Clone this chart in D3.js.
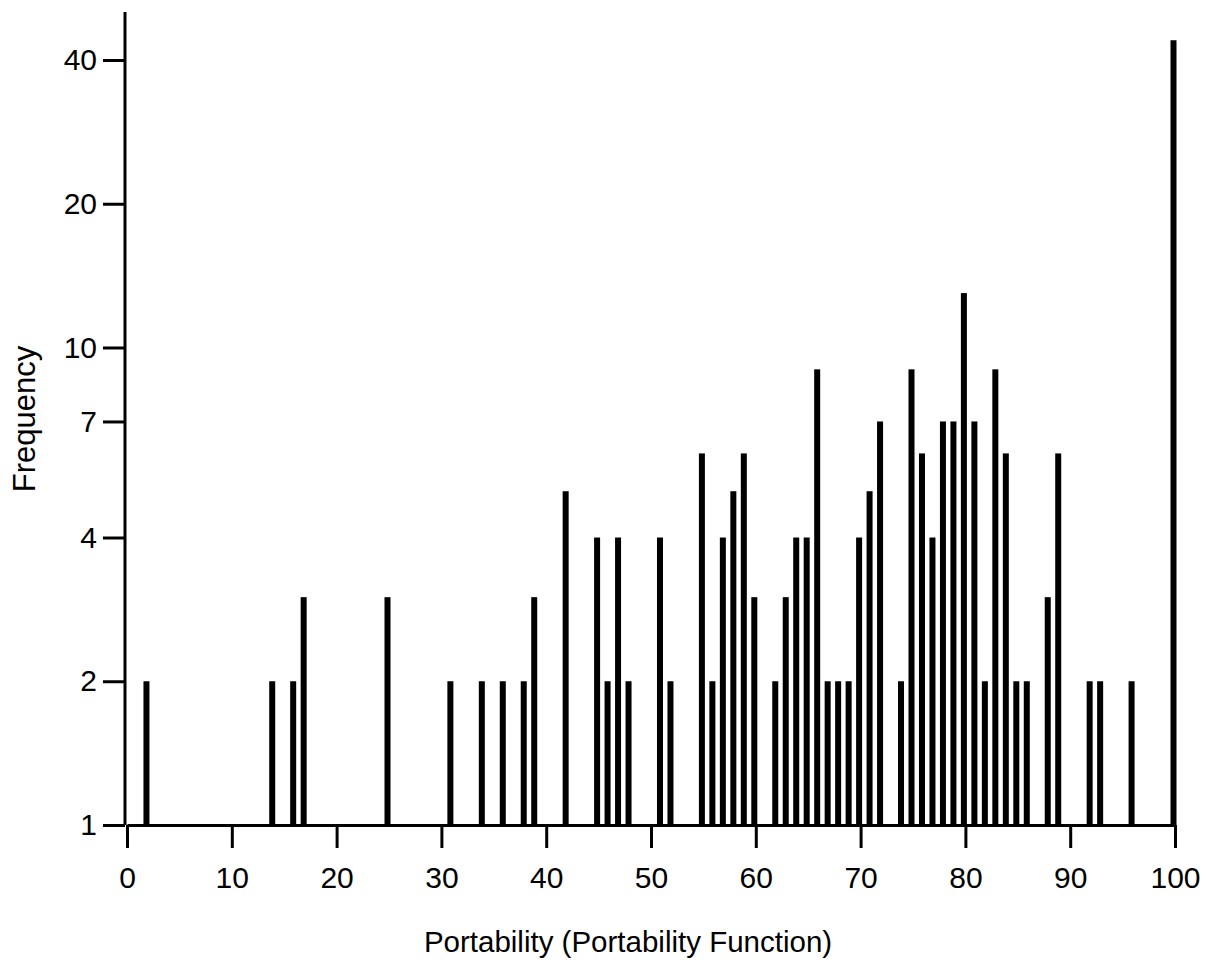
<!DOCTYPE html>
<html>
<head>
<meta charset="utf-8">
<script src="https://cdn.jsdelivr.net/npm/d3@7"></script>
<style>
  body { margin: 0; background: #fff; }
  svg { display: block; }
  .axis text { font-family: "Liberation Sans", Arial, Helvetica, sans-serif; font-size: 30px; fill: #000; }
  .axis path, .axis line { stroke: #000; stroke-width: 3; }
  .label { font-family: "Liberation Sans", Arial, Helvetica, sans-serif; font-size: 29.5px; fill: #000; }
</style>
</head>
<body>
<svg width="1212" height="963"></svg>
<script>
// portability score (x) and how many programs got it (frequency)
var portability = [2, 14, 16, 17, 25, 31, 34, 36, 38, 39,
  42, 45, 46, 47, 48, 51, 52, 55, 56, 57,
  58, 59, 60, 62, 63, 64, 65, 66, 67, 68,
  69, 70, 71, 72, 74, 75, 76, 77, 78, 79,
  80, 81, 82, 83, 84, 85, 86, 88, 89, 92,
  93, 96, 100];
var frequency = [2, 2, 2, 3, 3, 2, 2, 2, 2, 3,
  5, 4, 2, 4, 2, 4, 2, 6, 2, 4,
  5, 6, 3, 2, 3, 4, 4, 9, 2, 2,
  2, 4, 5, 7, 2, 9, 6, 4, 7, 7,
  13, 7, 2, 9, 6, 2, 2, 3, 6, 2,
  2, 2, 44];

var xTicks = [0, 10, 20, 30, 40, 50, 60, 70, 80, 90, 100];
var yTicks = [1, 2, 4, 7, 10, 20, 40];

var bars = portability.map(function(p, i) {
  return { x: p, y: frequency[i] };
});

var svg = d3.select('svg');

var plotLeft = 127, plotRight = 1175, plotBottom = 825, plotTop = 60;
var barWidth = 6;

var x = d3.scaleLinear().domain([0, 100]).range([plotLeft, plotRight]);
var y = d3.scaleLog().domain([1, 40]).range([plotBottom, plotTop]);

// bars
svg.append('g').selectAll('rect')
    .data(bars)
  .enter().append('rect')
    .attr('x', function(d) { return x(d.x) - barWidth / 2 - 1.5; })
    .attr('y', function(d) { return y(d.y); })
    .attr('width', barWidth)
    .attr('height', function(d) { return y(1) - y(d.y); })
    .attr('fill', '#000');

// x axis
svg.append('g')
    .attr('class', 'axis')
    .attr('transform', 'translate(0,' + plotBottom + ')')
    .call(d3.axisBottom(x).tickValues(xTicks).tickSize(23).tickSizeOuter(0).tickPadding(19));

// y axis, the line runs up past the 40 tick
var yAxis = svg.append('g')
    .attr('class', 'axis')
    .attr('transform', 'translate(' + (plotLeft - 2) + ',0)')
    .call(d3.axisLeft(y).tickValues(yTicks).tickFormat(d3.format('d')).tickSize(22).tickSizeOuter(0).tickPadding(6));
yAxis.select('.domain').remove();
yAxis.append('line')
    .attr('x1', 0).attr('x2', 0)
    .attr('y1', plotBottom).attr('y2', 12);

// axis titles
svg.append('text')
    .attr('class', 'label')
    .attr('x', 628)
    .attr('y', 952)
    .attr('text-anchor', 'middle')
    .text('Portability (Portability Function)');

svg.append('text')
    .attr('class', 'label')
    .attr('transform', 'translate(35,419) rotate(-90)')
    .attr('text-anchor', 'middle')
    .style('font-size', '31px')
    .text('Frequency');
</script>
</body>
</html>
